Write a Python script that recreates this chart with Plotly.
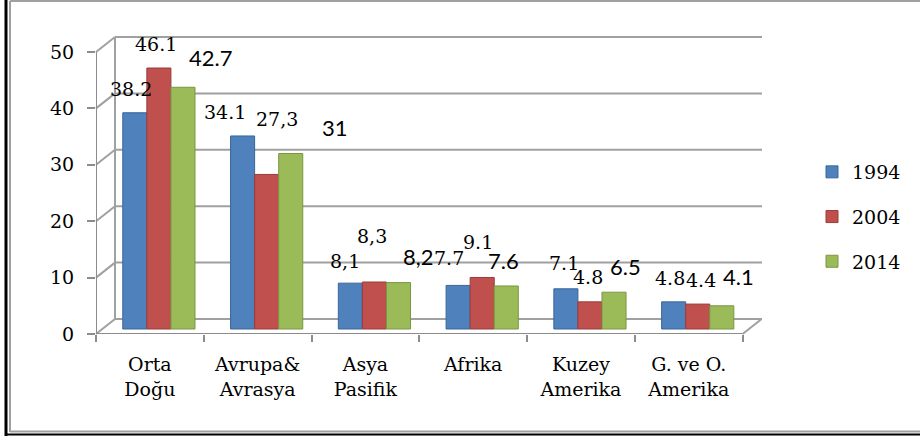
import plotly.graph_objects as go

# ---- data ----
categories = ["Orta<br>Doğu", "Avrupa&<br>Avrasya", "Asya<br>Pasifik", "Afrika",
              "Kuzey<br>Amerika", "G. ve O.<br>Amerika"]
series_names = ["1994", "2004", "2014"]
values_1994 = [38.2, 34.1, 8.1, 7.7, 7.1, 4.8]
values_2004 = [46.1, 27.3, 8.3, 9.1, 4.8, 4.4]
values_2014 = [42.7, 31, 8.2, 7.6, 6.5, 4.1]
labels_1994 = ["38.2", "34.1", "8,1", "7.7", "7.1", "4.8"]
labels_2004 = ["46.1", "27,3", "8,3", "9.1", "4.8", "4.4"]
labels_2014 = ["42.7", "31", "8,2", "7.6", "6.5", "4.1"]
y_ticks = [0, 10, 20, 30, 40, 50]

# ---- style ----
colors = ["#4F81BD", "#C0504D", "#9BBB59"]
edge_colors = ["#3B6699", "#9A3B38", "#7A9742"]
SERIF = "DejaVu Serif, Liberation Serif, serif"
SANS = "Lato, Open Sans, Liberation Sans, sans-serif"
W, H = 920, 436
L, R, T, B = 96, 762, 20, 334          # plot area (px)
DEPTH_X, DEPTH_Y = 19, 15              # 3-D depth offset (px)
BAR_SHIFT = 9                          # bars sit mid-depth (px)
BAR_BASE = 329                         # px where bar value 0 sits
XR = (-0.5, 5.68)
px_per_cat = (R - L) / (XR[1] - XR[0])
FRONT_PPU = 5.64
front_y_range = (0, (B - T) / FRONT_PPU)
bar_ppu = 5.661
bar_y_range = (-(B - BAR_BASE) / bar_ppu, (BAR_BASE - T) / bar_ppu)
bargap = 0.33
bar_w = (1 - bargap) / 3
shift_u = BAR_SHIFT / px_per_cat

# label offsets (px): (dx, dy up)
label_offsets = [
    [(-4, 24), (-18, 24), (-5, 22), (-9, 27), (-2, 26), (-4, 24)],
    [(-3, 24), (10, 55), (-2, 46), (-4, 35), (-2, 25), (3, 24)],
    [(28, 30), (44, 26), (20, 26), (-3, 25), (11, 26), (17, 29)],
]

fig = go.Figure()
all_vals = [values_1994, values_2004, values_2014]
all_labels = [labels_1994, labels_2004, labels_2014]
for k, (name, vals) in enumerate(zip(series_names, all_vals)):
    fig.add_trace(go.Bar(
        x=categories, y=vals, name=name, xaxis="x2", yaxis="y",
        marker=dict(color=colors[k], line=dict(color=edge_colors[k], width=1)),
        legendgroup=name, hoverinfo="skip",
    ))

# pixel -> paper helpers
def xp(px):
    return (px - L) / (R - L)
def yp(py):
    return (B - py) / (B - T)

shapes = []
def pline(x0, y0, x1, y1, color, width, layer="above"):
    shapes.append(dict(type="line", xref="paper", yref="paper",
                       x0=xp(x0), y0=yp(y0), x1=xp(x1), y1=yp(y1),
                       line=dict(color=color, width=width), layer=layer))

# 3-D frame: back-wall gridlines, diagonals
grid_col = "#A0A0A0"
axis_col = "#8C8C8C"
front_x0 = L
front_x1 = L + 6 * px_per_cat
for v in y_ticks:
    fy = B - v * FRONT_PPU
    pline(front_x0 + DEPTH_X, fy - DEPTH_Y, R, fy - DEPTH_Y, grid_col, 2, "below")
    pline(front_x0, fy, front_x0 + DEPTH_X, fy - DEPTH_Y, grid_col, 2, "below")
pline(front_x0 + DEPTH_X, B - DEPTH_Y, front_x0 + DEPTH_X,
      B - 50 * FRONT_PPU - DEPTH_Y, grid_col, 2, "below")
pline(front_x1, B, front_x1 + DEPTH_X, B - DEPTH_Y, grid_col, 2, "below")

# front value axis and front floor edge, on the visible front axes
shapes.append(dict(type="line", xref="x", yref="y2", x0=XR[0], x1=XR[0],
                   y0=0, y1=y_ticks[-1], line=dict(color=axis_col, width=2),
                   layer="above"))
shapes.append(dict(type="line", xref="x", yref="y2", x0=XR[0], x1=len(categories) - 0.5,
                   y0=0, y1=0, line=dict(color=axis_col, width=2), layer="above"))

# outer frame
pline(6, 0, 6, 436, "#000000", 3)
pline(10, 1, 10, 432, "#A0A0A0", 2)
pline(10, 1, 920, 1, "#A0A0A0", 2)
pline(10, 431.5, 920, 431.5, "#A0A0A0", 2)
pline(6, 434.5, 920, 434.5, "#000000", 2)

annotations = []
for k in range(3):
    for i, (v, txt) in enumerate(zip(all_vals[k], all_labels[k])):
        dx, dy = label_offsets[k][i]
        annotations.append(dict(
            x=i + (k - 1) * bar_w, y=v, xref="x2", yref="y", text=txt,
            showarrow=False, xanchor="center", yanchor="middle",
            xshift=dx, yshift=dy,
            font=dict(family=SANS if k == 2 else SERIF, size=22 if k == 2 else 19,
                      color="#000000"),
        ))

fig.update_layout(
    width=W, height=H,
    margin=dict(l=L, r=W - R, t=T, b=H - B, pad=0),
    paper_bgcolor="white", plot_bgcolor="rgba(0,0,0,0)",
    barmode="group", bargap=bargap, bargroupgap=0,
    showlegend=True,
    legend=dict(x=xp(812), y=yp(153), xanchor="left", yanchor="top",
                font=dict(family=SERIF, size=19, color="#000000"),
                traceorder="grouped", tracegroupgap=17, bgcolor="rgba(0,0,0,0)"),
    xaxis=dict(type="category", categoryarray=categories, range=list(XR),
               showgrid=False, zeroline=False, showline=False,
               ticks="outside", ticklen=7, tickcolor=axis_col, tickwidth=2,
               tickson="boundaries", ticklabelstandoff=17,
               tickfont=dict(family=SERIF, size=19, color="#000000"),
               anchor="y2"),
    xaxis2=dict(type="category", categoryarray=categories, overlaying="x",
                range=[XR[0] - shift_u, XR[1] - shift_u], visible=False,
                anchor="y"),
    yaxis=dict(range=list(bar_y_range), visible=False, showgrid=False),
    yaxis2=dict(overlaying="y", side="left", anchor="x", range=list(front_y_range),
                tickvals=y_ticks, ticks="outside", ticklen=8, tickcolor=axis_col,
                tickwidth=2, showgrid=False, zeroline=False, showline=False,
                ticklabelstandoff=9,
                tickfont=dict(family=SERIF, size=19, color="#000000")),
    shapes=shapes, annotations=annotations,
)
fig.write_html("out.html", config={"displayModeBar": False},
               post_script="document.body.style.margin='0';")
